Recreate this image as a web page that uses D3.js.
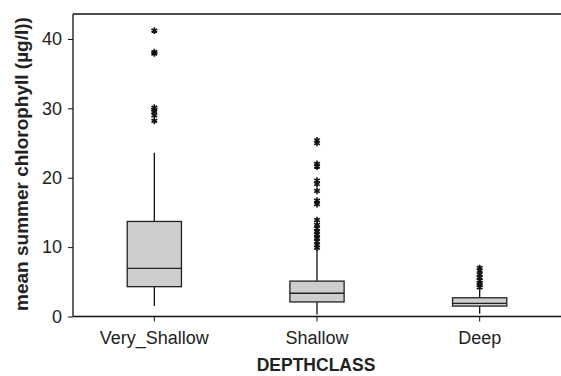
<!DOCTYPE html>
<meta charset="utf-8">
<style>
body { margin: 0; background: #fff; }
svg { font-family: "Liberation Sans", Arial, sans-serif; }
</style>
<body>
<script src="https://cdn.jsdelivr.net/npm/d3@7"></script>
<script>
// data
var classes = ["Very_Shallow", "Shallow", "Deep"];
var q1 = [4.3, 2.1, 1.5];
var median = [6.95, 3.35, 1.9];
var q3 = [13.7, 5.1, 2.7];
var whiskLo = [1.5, 0.3, 0.4];
var whiskHi = [23.6, 9.6, 3.8];
var outliers = [
  [41.2, 38.1, 37.9, 30.1, 29.8, 29.5, 29.0, 28.2],
  [25.4, 25.0, 22.0, 21.6, 19.6, 19.1, 18.1, 16.7, 16.2, 13.9, 13.2, 12.7, 12.2, 11.8, 11.3, 10.8, 10.3, 9.9],
  [7.0, 6.6, 6.1, 5.6, 5.2, 4.8, 4.5, 4.2]
];
var yTicks = [0, 10, 20, 30, 40];

var W = 561, H = 376;
var svg = d3.select("body").append("svg").attr("width", W).attr("height", H);

var x = d3.scaleBand().domain(classes).range([73, 561]).padding(0);
var y = d3.scaleLinear().domain([0, 43.6]).range([316.5, 14]);

// frame: top line + axes
svg.append("line").attr("x1", 73).attr("x2", W).attr("y1", 14).attr("y2", 14)
  .attr("stroke", "#111").attr("stroke-width", 1.3);

var yAxis = svg.append("g").attr("transform", "translate(73,0)")
  .call(d3.axisLeft(y).tickValues(yTicks).tickSize(5).tickPadding(6));
yAxis.select(".domain").attr("d", "M0,14V316.5").attr("stroke", "#111").attr("stroke-width", 1.3);
yAxis.selectAll(".tick line").attr("stroke", "#111");
yAxis.selectAll("text").attr("font-size", 18).attr("fill", "#222")
  .attr("font-family", "Liberation Sans, Arial, sans-serif");

var xAxis = svg.append("g").attr("transform", "translate(0,316.5)")
  .call(d3.axisBottom(x).tickSize(5).tickPadding(10));
xAxis.select(".domain").attr("d", "M73,0H" + W).attr("stroke", "#111").attr("stroke-width", 1.3);
xAxis.selectAll(".tick line").attr("stroke", "#111");
xAxis.selectAll("text").attr("font-size", 18).attr("fill", "#222")
  .attr("font-family", "Liberation Sans, Arial, sans-serif");

// boxes
var bw = x.bandwidth() / 3;
var g = svg.append("g");
classes.forEach(function(c, i) {
  var cx = x(c) + x.bandwidth() / 2;
  g.append("line").attr("x1", cx).attr("x2", cx).attr("y1", y(whiskLo[i])).attr("y2", y(q1[i]))
    .attr("stroke", "#111").attr("stroke-width", 1.3);
  g.append("line").attr("x1", cx).attr("x2", cx).attr("y1", y(q3[i])).attr("y2", y(whiskHi[i]))
    .attr("stroke", "#111").attr("stroke-width", 1.3);
  g.append("rect").attr("x", cx - bw / 2).attr("width", bw)
    .attr("y", y(q3[i])).attr("height", y(q1[i]) - y(q3[i]))
    .attr("fill", "#cdcfcf").attr("stroke", "#222").attr("stroke-width", 1.3);
  g.append("line").attr("x1", cx - bw / 2).attr("x2", cx + bw / 2)
    .attr("y1", y(median[i])).attr("y2", y(median[i]))
    .attr("stroke", "#222").attr("stroke-width", 1.3);
  g.selectAll(null).data(outliers[i]).enter().append("path")
    .attr("transform", function(d) { return "translate(" + cx + "," + y(d) + ")"; })
    .attr("d", d3.symbol(d3.symbolAsterisk, 30))
    .attr("fill", "none").attr("stroke", "#111").attr("stroke-width", 1.6);
});

// axis titles
svg.append("text").attr("x", 73 + (W - 73) / 2 - 1).attr("y", 371)
  .attr("text-anchor", "middle").attr("font-size", 17.5).attr("font-weight", "bold")
  .attr("fill", "#222").text("DEPTHCLASS");
svg.append("text").attr("transform", "translate(28,164) rotate(-90)")
  .attr("text-anchor", "middle").attr("font-size", 19).attr("font-weight", "bold")
  .attr("fill", "#222").text("mean summer chlorophyll (µg/l))");
</script>
</body>
